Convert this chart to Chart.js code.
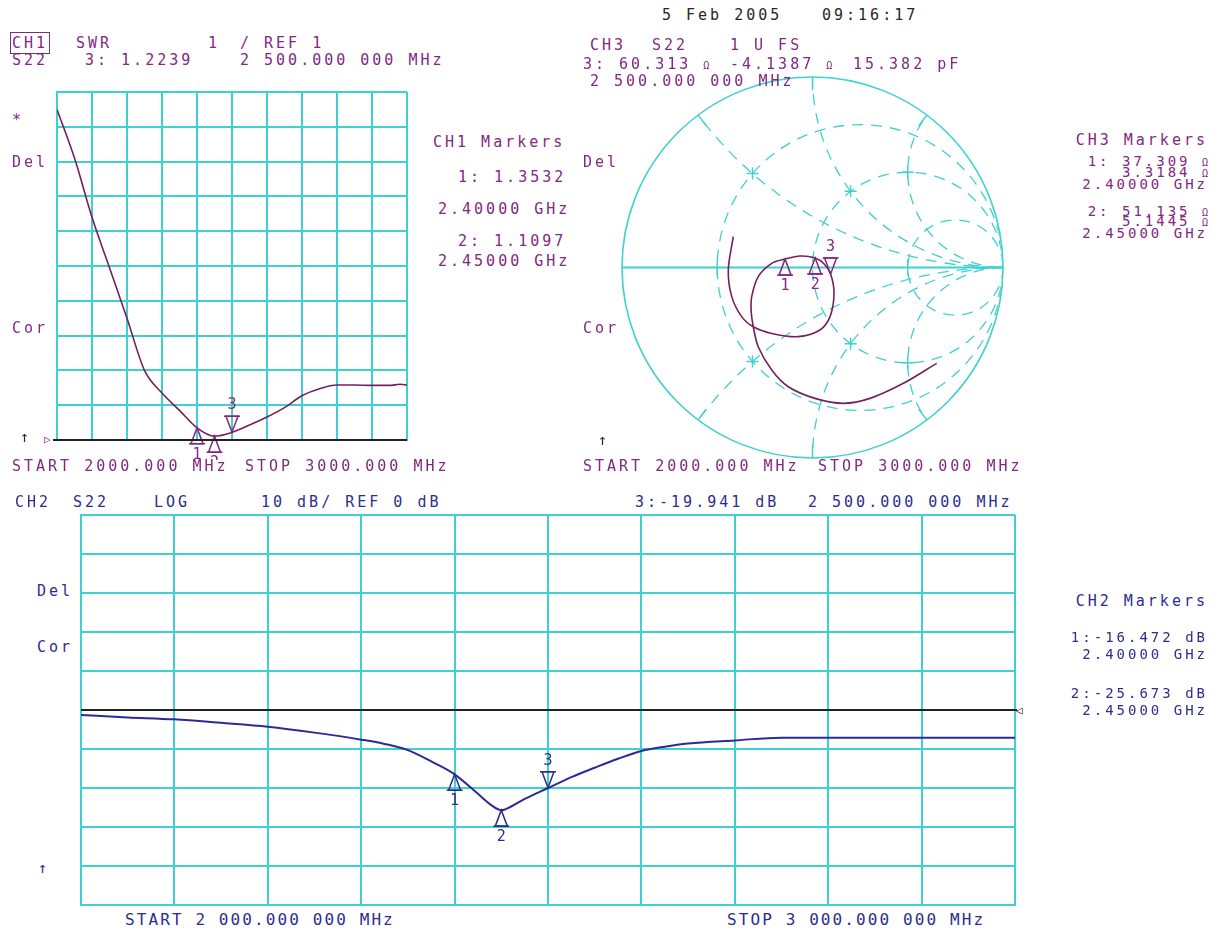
<!DOCTYPE html>
<html>
<head>
<meta charset="utf-8">
<title>S22 analyser screen</title>
<script src="https://cdn.jsdelivr.net/npm/chart.js@4.4.1/dist/chart.umd.min.js"></script>
<style>
  body { margin: 0; background: #fff; }
  #page { position: relative; width: 1220px; height: 935px; overflow: hidden; font-family: "DejaVu Sans Mono", monospace; }
  #page canvas { position: absolute; }
  .t { position: absolute; white-space: pre; font-size: 15px; line-height: 16px; letter-spacing: 3px; }
  .p { color: #83287f; }
  .b { color: #2d2d8f; }
  .k { color: #262626; }
  .rt { right: 12px; text-align: right; }
  .m { font-size: 14px; letter-spacing: 3px; }
  .tight { line-height: 13px; }
  .om { font-size: 10px; letter-spacing: 0; }
  .box { outline: 1px solid #83287f; outline-offset: 1px; }
  .bot { font-size: 16px; letter-spacing: 2.1px; }
</style>
</head>
<body>
<div id="page">
  <canvas id="ch1" width="370" height="372" style="left:41px;top:88px"></canvas>
  <canvas id="ch3" width="401" height="401" style="left:612px;top:67px"></canvas>
  <canvas id="ch2" width="956" height="398" style="left:77px;top:511px"></canvas>

  <!-- date line -->
  <div class="t k" style="left:662px;top:7px">5 Feb 2005</div>
  <div class="t k" style="left:822px;top:7px">09:16:17</div>

  <!-- CH1 header -->
  <div class="t p" style="left:12px;top:35px"><span class="box">CH1</span></div>
  <div class="t p" style="left:76px;top:35px">SWR</div>
  <div class="t p" style="left:208px;top:35px">1</div>
  <div class="t p" style="left:240px;top:35px">/ REF 1</div>
  <div class="t p" style="left:12px;top:52px">S22</div>
  <div class="t p" style="left:85px;top:52px">3: 1.2239</div>
  <div class="t p" style="left:240px;top:52px">2 500.000 000 MHz</div>
  <div class="t p" style="left:12px;top:112px">*</div>
  <div class="t p" style="left:12px;top:154px">Del</div>
  <div class="t p" style="left:12px;top:320px">Cor</div>
  <div class="t k" style="left:20px;top:429px">↑</div>
  <div class="t p" style="left:44px;top:432px;font-size:11px">▷</div>
  <div class="t p" style="left:12px;top:458px">START 2000.000 MHz</div>
  <div class="t p" style="left:245px;top:458px">STOP 3000.000 MHz</div>

  <div class="t p" style="left:433px;top:134px">CH1 Markers</div>
  <div class="t p" style="left:458px;top:169px">1: 1.3532</div>
  <div class="t p" style="left:438px;top:201px">2.40000 GHz</div>
  <div class="t p" style="left:458px;top:233px">2: 1.1097</div>
  <div class="t p" style="left:438px;top:253px">2.45000 GHz</div>

  <!-- CH3 header -->
  <div class="t p" style="left:590px;top:37px">CH3</div>
  <div class="t p" style="left:652px;top:37px">S22</div>
  <div class="t p" style="left:730px;top:37px">1 U FS</div>
  <div class="t p" style="left:583px;top:56px">3: 60.313 <span class="om">Ω</span></div>
  <div class="t p" style="left:730px;top:56px">-4.1387 <span class="om">Ω</span></div>
  <div class="t p" style="left:853px;top:56px">15.382 pF</div>
  <div class="t p" style="left:590px;top:73px">2 500.000 000 MHz</div>
  <div class="t p" style="left:583px;top:154px">Del</div>
  <div class="t p" style="left:583px;top:320px">Cor</div>
  <div class="t k" style="left:598px;top:432px">↑</div>
  <div class="t p" style="left:583px;top:458px">START 2000.000 MHz</div>
  <div class="t p" style="left:818px;top:458px">STOP 3000.000 MHz</div>

  <div class="t p rt" style="top:132px">CH3 Markers</div>
  <div class="t p rt m tight" style="top:155px">1: 37.309 <span class="om">Ω</span></div>
  <div class="t p rt m tight" style="top:166px">3.3184 <span class="om">Ω</span></div>
  <div class="t p rt m tight" style="top:178px">2.40000 GHz</div>
  <div class="t p rt m tight" style="top:205px">2: 51.135 <span class="om">Ω</span></div>
  <div class="t p rt m tight" style="top:215px">5.1445 <span class="om">Ω</span></div>
  <div class="t p rt m tight" style="top:227px">2.45000 GHz</div>

  <!-- CH2 header -->
  <div class="t b" style="left:15px;top:494px">CH2</div>
  <div class="t b" style="left:73px;top:494px">S22</div>
  <div class="t b" style="left:154px;top:494px">LOG</div>
  <div class="t b" style="left:261px;top:494px">10 dB/ REF 0 dB</div>
  <div class="t b" style="left:635px;top:494px">3:-19.941 dB</div>
  <div class="t b" style="left:808px;top:494px">2 500.000 000 MHz</div>
  <div class="t b" style="left:37px;top:583px">Del</div>
  <div class="t b" style="left:37px;top:639px">Cor</div>
  <div class="t b" style="left:38px;top:860px">↑</div>
  <div class="t k" style="left:1016px;top:703px;font-size:11px">◁</div>
  <div class="t b bot" style="left:125px;top:912px">START 2 000.000 000 MHz</div>
  <div class="t b bot" style="left:727px;top:912px">STOP 3 000.000 000 MHz</div>

  <div class="t b rt" style="top:593px">CH2 Markers</div>
  <div class="t b rt m" style="top:629px">1:-16.472 dB</div>
  <div class="t b rt m" style="top:646px">2.40000 GHz</div>
  <div class="t b rt m" style="top:685px">2:-25.673 dB</div>
  <div class="t b rt m" style="top:702px">2.45000 GHz</div>
</div>

<script>
// CH1: SWR of S22 against frequency (MHz)
const swrFreqMHz = [2000, 2050, 2100, 2150, 2200, 2250, 2300, 2350, 2400, 2450, 2500,
                    2550, 2600, 2650, 2700, 2750, 2800, 2850, 2900, 2950, 2980, 3000];
const swrValues = [10.5, 9.1, 7.4, 5.95, 4.5, 3.0, 2.35, 1.85, 1.35, 1.11, 1.22,
                   1.43, 1.66, 1.93, 2.27, 2.47, 2.58, 2.58, 2.57, 2.57, 2.6, 2.58];

// CH2: log magnitude of S22 (dB)
const logFreqMHz = [2000, 2050, 2100, 2150, 2200, 2250, 2300, 2325, 2350, 2375, 2400, 2425,
                    2440, 2450, 2460, 2475, 2500, 2525, 2550, 2575, 2600, 2625, 2650, 2700,
                    2750, 2800, 2850, 2900, 2950, 3000];
const logMagDb = [-1.3, -1.9, -2.4, -3.3, -4.3, -5.8, -7.6, -8.7, -10.3, -13.2, -16.5, -21.5,
                  -24.5, -25.7, -24.8, -22.8, -20.0, -17.2, -14.8, -12.5, -10.5, -9.4, -8.6, -7.8,
                  -7.1, -7.1, -7.1, -7.1, -7.1, -7.1];

// CH3: S22 on the Smith chart, reflection coefficient (real, imaginary), 2000 -> 3000 MHz
const smithRe = [0.652, 0.477, 0.302, 0.162, 0.013, -0.127, -0.214, -0.285, -0.311, -0.322,
                 -0.319, -0.285, -0.214, -0.144, -0.066, 0.014, 0.060, 0.095, 0.113, 0.092,
                 0.039, -0.075, -0.214, -0.311, -0.372, -0.424, -0.442, -0.416];
const smithIm = [-0.503, -0.608, -0.687, -0.713, -0.687, -0.626, -0.538, -0.416, -0.311, -0.23,
                 -0.153, -0.048, 0.022, 0.044, 0.060, 0.050, 0.020, -0.034, -0.135, -0.258,
                 -0.328, -0.363, -0.346, -0.311, -0.258, -0.153, -0.013, 0.162];

// markers 1, 2, 3
const markerFreqMHz = [2400, 2450, 2500];
const markerSwr = [1.3532, 1.1097, 1.2239];
const markerDb = [-16.472, -25.673, -19.941];
const markerRe = [-0.144, 0.014, 0.095];
const markerIm = [0.044, 0.050, -0.034];

// Smith grid circles
const smithR = [1 / 3, 1, 3];
const smithX = [0.5, 1, 2];

const gridCyan = '#3fd0d0';
const purpleTrace = '#74205f';
const purpleText = '#83287f';
const blueTrace = '#2b2b96';
const blueText = '#2d2d8f';

// triangles under / over the trace, like the analyser's marker symbols
const markerPlugin = {
  id: 'markers',
  afterDatasetsDraw(chart, args, opts) {
    if (!opts.xs) return;
    const { ctx } = chart;
    const sx = chart.scales.x, sy = chart.scales.y;
    ctx.save();
    ctx.strokeStyle = opts.color;
    ctx.fillStyle = opts.color;
    ctx.lineWidth = 1.5;
    ctx.font = '15px "DejaVu Sans Mono", monospace';
    ctx.textAlign = 'center';
    ctx.textBaseline = 'middle';
    opts.xs.forEach((v, i) => {
      const px = sx.getPixelForValue(v);
      const py = sy.getPixelForValue(opts.ys[i]);
      const dir = i === 2 ? -1 : 1;
      ctx.beginPath();
      ctx.moveTo(px, py);
      ctx.lineTo(px - 6, py + dir * 16);
      ctx.lineTo(px + 6, py + dir * 16);
      ctx.closePath();
      ctx.stroke();
      ctx.beginPath();
      ctx.moveTo(px - 8, py + dir * 16);
      ctx.lineTo(px + 8, py + dir * 16);
      ctx.stroke();
      ctx.fillText(String(i + 1), px, py + dir * 27);
    });
    ctx.restore();
  }
};

// black reference line
const refLinePlugin = {
  id: 'refLine',
  afterDraw(chart, args, opts) {
    if (opts.value === undefined) return;
    const { ctx, chartArea } = chart;
    const y = chart.scales.y.getPixelForValue(opts.value);
    ctx.save();
    ctx.strokeStyle = '#222';
    ctx.lineWidth = 2;
    ctx.beginPath();
    ctx.moveTo(chartArea.left - (opts.extendLeft || 0), y);
    ctx.lineTo(chartArea.right + (opts.extendRight || 0), y);
    ctx.stroke();
    ctx.restore();
  }
};

const smithGridPlugin = {
  id: 'smithGrid',
  beforeDatasetsDraw(chart) {
    const { ctx } = chart;
    const sx = chart.scales.x, sy = chart.scales.y;
    const cx = sx.getPixelForValue(0), cy = sy.getPixelForValue(0);
    const R = sx.getPixelForValue(1) - cx;
    const toPx = (re, im) => [sx.getPixelForValue(re), sy.getPixelForValue(im)];
    ctx.save();
    ctx.strokeStyle = gridCyan;
    ctx.lineWidth = 1.6;
    ctx.beginPath();
    ctx.arc(cx, cy, R, 0, Math.PI * 2);
    ctx.stroke();
    ctx.lineWidth = 2;
    ctx.beginPath();
    ctx.moveTo(cx - R, cy);
    ctx.lineTo(cx + R, cy);
    ctx.stroke();

    // solid ticks on the rim where the reactance arcs end
    ctx.lineWidth = 1.4;
    smithX.forEach(xv => [1, -1].forEach(s => {
      const th = 2 * Math.atan(1 / xv);
      const c = Math.cos(th), sn = s * Math.sin(th);
      const [x0, y0] = toPx(c, sn);
      const [x1, y1] = toPx(c * 0.93, sn * 0.93);
      ctx.beginPath(); ctx.moveTo(x0, y0); ctx.lineTo(x1, y1); ctx.stroke();
    }));
    [-0.5, 0.5].forEach(g => {
      const [px, py] = toPx(g, 0);
      ctx.beginPath(); ctx.moveTo(px, py - 8); ctx.lineTo(px, py + 8); ctx.stroke();
    });
    // small crosses at grid intersections
    [[1 / 3, 0.5], [1 / 3, -0.5], [1, 1], [1, -1], [1, 2], [1, -2]].forEach(([r, xv]) => {
      const d = (r + 1) * (r + 1) + xv * xv;
      const [px, py] = toPx((r * r - 1 + xv * xv) / d, 2 * xv / d);
      ctx.beginPath();
      ctx.moveTo(px - 6, py); ctx.lineTo(px + 6, py);
      ctx.moveTo(px, py - 6); ctx.lineTo(px, py + 6);
      ctx.stroke();
    });

    ctx.beginPath();
    ctx.arc(cx, cy, R - 1, 0, Math.PI * 2);
    ctx.clip();
    ctx.setLineDash([11, 8]);
    ctx.lineWidth = 1.3;
    smithR.forEach(r => {
      ctx.beginPath();
      ctx.arc(cx + R * r / (1 + r), cy, R / (1 + r), 0, Math.PI * 2);
      ctx.stroke();
    });
    smithX.forEach(xv => [1, -1].forEach(s => {
      ctx.beginPath();
      ctx.arc(cx + R, cy - s * R / xv, R / xv, 0, Math.PI * 2);
      ctx.stroke();
    }));
    ctx.restore();
  }
};

function rectScales(xMin, xMax, xStep, yMin, yMax, yStep) {
  const axis = (min, max, step) => ({
    type: 'linear', min, max,
    ticks: { display: false, stepSize: step },
    grid: { color: gridCyan, lineWidth: 2, drawTicks: false },
    border: { display: true, color: gridCyan, width: 2 }
  });
  return { x: axis(xMin, xMax, xStep), y: axis(yMin, yMax, yStep) };
}

const basePlugins = { legend: { display: false }, tooltip: { enabled: false } };

new Chart(document.getElementById('ch1'), {
  type: 'scatter',
  data: {
    datasets: [{
      data: swrFreqMHz.map((f, i) => ({ x: f, y: swrValues[i] })),
      showLine: true,
      borderColor: purpleTrace,
      borderWidth: 1.6,
      pointRadius: 0,
      cubicInterpolationMode: 'monotone'
    }]
  },
  options: {
    responsive: false,
    animation: false,
    events: [],
    layout: { padding: { left: 16, top: 4, right: 4, bottom: 20 } },
    scales: rectScales(2000, 3000, 100, 1, 11, 1),
    plugins: {
      ...basePlugins,
      refLine: { value: 1, extendLeft: 4 },
      markers: { xs: markerFreqMHz, ys: markerSwr, color: purpleText }
    }
  },
  plugins: [refLinePlugin, markerPlugin]
});

new Chart(document.getElementById('ch2'), {
  type: 'scatter',
  data: {
    datasets: [{
      data: logFreqMHz.map((f, i) => ({ x: f, y: logMagDb[i] })),
      showLine: true,
      borderColor: blueTrace,
      borderWidth: 2,
      pointRadius: 0,
      cubicInterpolationMode: 'monotone'
    }]
  },
  options: {
    responsive: false,
    animation: false,
    events: [],
    layout: { padding: { left: 4, top: 4, right: 18, bottom: 4 } },
    scales: rectScales(2000, 3000, 100, -50, 50, 10),
    plugins: {
      ...basePlugins,
      refLine: { value: 0, extendRight: 2 },
      markers: { xs: markerFreqMHz, ys: markerDb, color: blueText }
    }
  },
  plugins: [refLinePlugin, markerPlugin]
});

new Chart(document.getElementById('ch3'), {
  type: 'scatter',
  data: {
    datasets: [{
      data: smithRe.map((re, i) => ({ x: re, y: smithIm[i] })),
      showLine: true,
      borderColor: purpleTrace,
      borderWidth: 1.6,
      pointRadius: 0,
      tension: 0.3
    }]
  },
  options: {
    responsive: false,
    animation: false,
    events: [],
    layout: { padding: 10 },
    scales: {
      x: { type: 'linear', min: -1, max: 1, display: false },
      y: { type: 'linear', min: -1, max: 1, display: false }
    },
    plugins: {
      ...basePlugins,
      markers: { xs: markerRe, ys: markerIm, color: purpleText }
    }
  },
  plugins: [smithGridPlugin, markerPlugin]
});
</script>
</body>
</html>
